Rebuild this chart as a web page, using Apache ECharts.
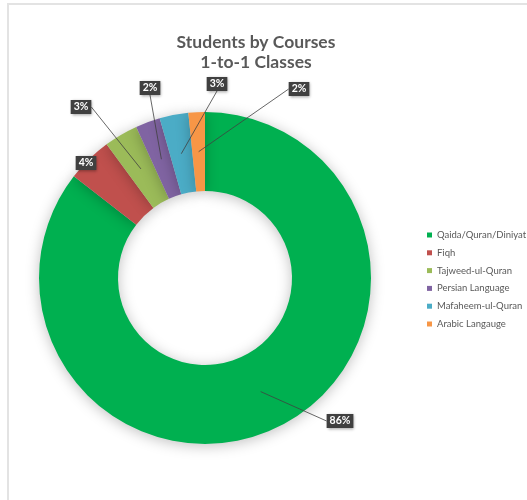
<!DOCTYPE html>
<html>
<head>
<meta charset="utf-8">
<script src="https://cdn.jsdelivr.net/npm/echarts@6/dist/echarts.min.js"></script>
<style>
html,body{margin:0;padding:0;background:#fff;}
#frame{position:absolute;left:7px;top:3px;width:520px;height:497px;border-top:2px solid #e3e3e3;border-left:2px solid #e3e3e3;box-sizing:border-box;}
#chart{position:absolute;left:0;top:0;width:527px;height:500px;}
</style>
</head>
<body>
<div id="frame"></div>
<div id="chart"></div>
<script>
var categories = ['Qaida/Quran/Diniyat', 'Fiqh', 'Tajweed-ul-Quran', 'Persian Language', 'Mafaheem-ul-Quran', 'Arabic Langauge'];
var values = [85.5, 4.4, 3.3, 2.4, 2.8, 1.6];
var colors = ['#00B050', '#C0504D', '#9BBB59', '#8064A2', '#4BACC6', '#F79646'];

var CX = 205, CY = 278, R_IN = 87, R_OUT = 166;
// label box centres (styling)
var labelSpots = [[340, 421], [86, 163], [81, 107], [150, 88], [217, 84], [299, 89]];

var total = values.reduce(function (a, b) { return a + b; }, 0);
function midAngle(i) {
  var acc = 0;
  for (var k = 0; k < i; k++) acc += values[k];
  return (acc + values[i] / 2) / total * Math.PI * 2;
}

var chart = echarts.init(document.getElementById('chart'));
chart.setOption({
  animation: false,
  title: {
    text: 'Students by Courses\n1-to-1 Classes',
    left: 251, top: 27, textAlign: 'center',
    textStyle: { fontFamily: 'Lato', fontWeight: 'bold', fontSize: 17.5, lineHeight: 20, color: '#595959' }
  },
  legend: {
    orient: 'vertical', left: 422, top: 225,
    itemWidth: 5, itemHeight: 5, itemGap: 7.8, icon: 'rect',
    data: categories.map(function (c, i) { return { name: c, itemStyle: { color: colors[i] } }; }),
    textStyle: { fontFamily: 'Lato', fontSize: 9.5, lineHeight: 10, color: '#595959' }
  },
  series: [{
    type: 'pie',
    center: [CX, CY],
    radius: [R_IN, R_OUT],
    startAngle: 90,
    clockwise: true,
    data: categories.map(function (c, i) {
      return { name: c, value: values[i], itemStyle: { color: colors[i] } };
    }),
    itemStyle: { shadowBlur: 14, shadowColor: 'rgba(0,0,0,0.25)', shadowOffsetY: 2 },
    emphasis: { disabled: true },
    label: { show: false },
    labelLine: { show: false }
  }, {
    type: 'pie',
    z: 5,
    silent: true,
    center: [CX, CY],
    radius: [R_IN, R_OUT],
    startAngle: 90,
    clockwise: true,
    avoidLabelOverlap: false,
    data: categories.map(function (c, i) {
      return { name: c, value: values[i] };
    }),
    itemStyle: { color: 'rgba(0,0,0,0)' },
    emphasis: { disabled: true },
    label: {
      show: true, position: 'outside',
      formatter: function (p) { return Math.round(p.percent) + '%'; },
      backgroundColor: '#404040', color: '#fff',
      fontFamily: 'Lato', fontWeight: 'bold', fontSize: 10.5,
      padding: [2, 3, 1, 3],
      shadowBlur: 3, shadowColor: 'rgba(0,0,0,0.4)', shadowOffsetX: 1, shadowOffsetY: 1
    },
    labelLine: { show: true, length: 10, length2: 5, lineStyle: { color: '#404040', width: 0.8 } },
    labelLayout: function (p) {
      var i = p.dataIndex;
      var s = labelSpots[i];
      var w = p.labelRect.width, h = p.labelRect.height;
      var a = midAngle(i);
      var rm = (R_IN + R_OUT) / 2;
      var A = [CX + rm * Math.sin(a), CY - rm * Math.cos(a)];
      var x0 = s[0] - w / 2, x1 = s[0] + w / 2, y0 = s[1] - h / 2, y1 = s[1] + h / 2;
      var B = [Math.min(Math.max(A[0], x0), x1), Math.min(Math.max(A[1], y0), y1)];
      var gx = Math.max(x0 - A[0], A[0] - x1, 0), gy = Math.max(y0 - A[1], A[1] - y1, 0);
      if (gx > 0 && gx >= gy * 0.8) B = [A[0] < x0 ? x0 : x1, s[1]];
      else if (gy > 0) B = [s[0], A[1] < y0 ? y0 : y1];
      return {
        x: s[0], y: s[1], align: 'center', verticalAlign: 'middle',
        labelLinePoints: i === 1 ? [B, B] : [A, B]
      };
    }
  }]
});
</script>
</body>
</html>
